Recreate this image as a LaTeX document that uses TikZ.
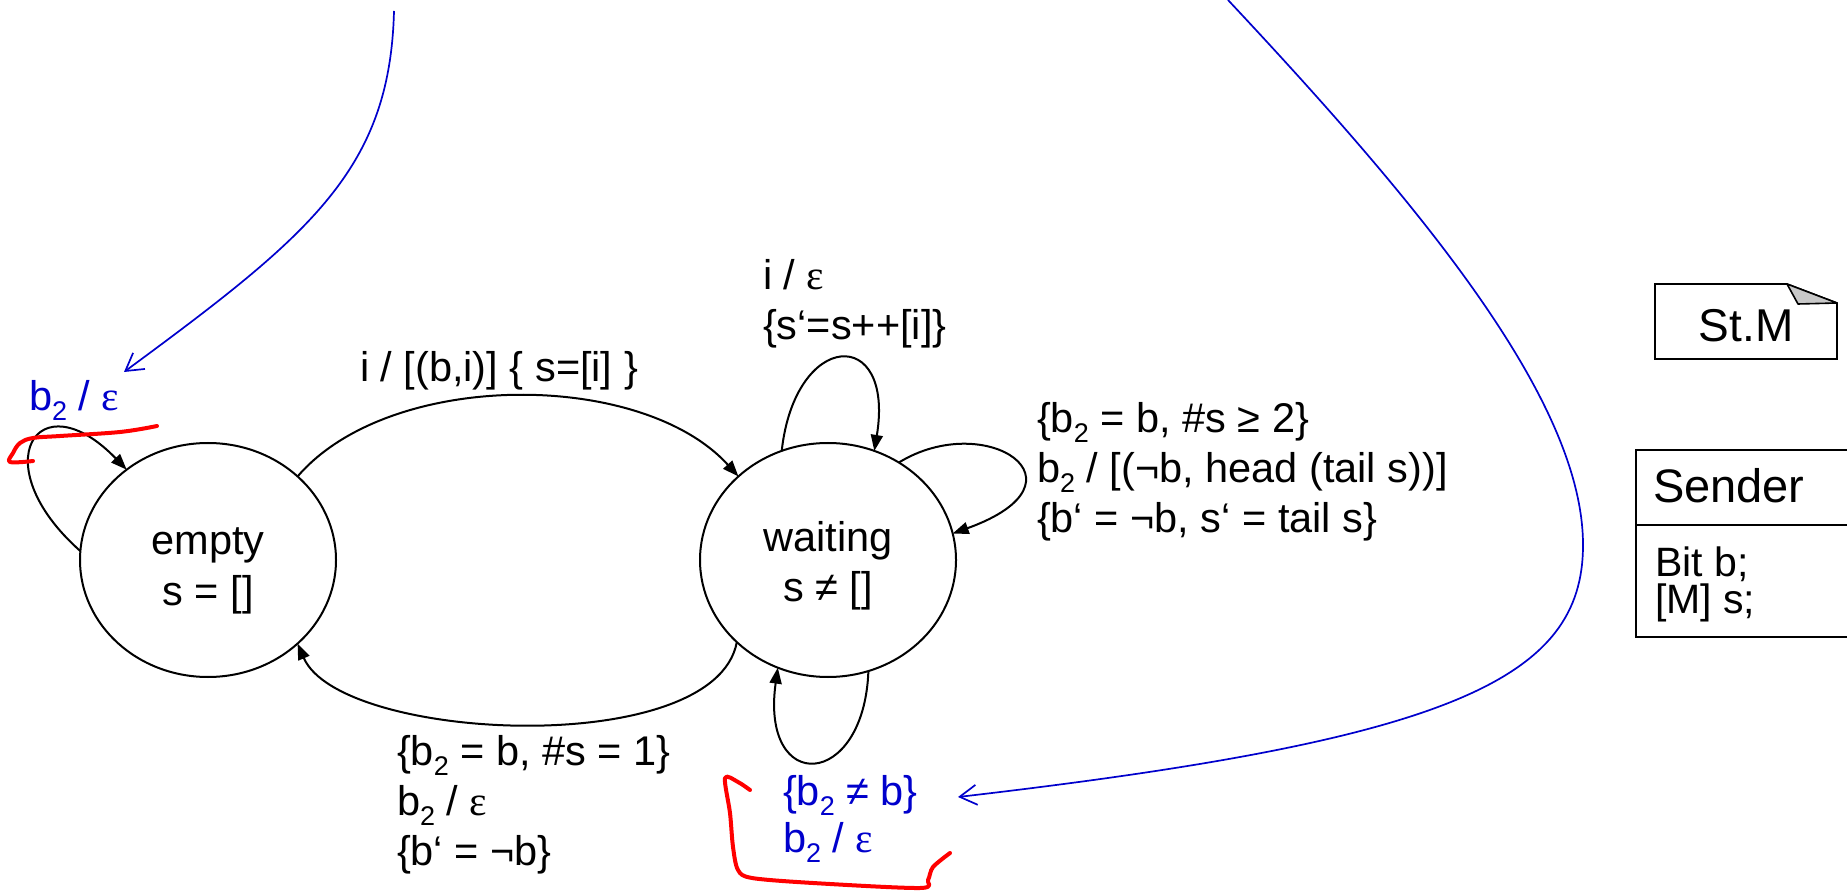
\documentclass[tikz,border=0pt]{standalone}
\usepackage{fontspec}
\setmainfont{Liberation Sans}
\newfontfamily\serifgreek{Liberation Serif}
\usetikzlibrary{arrows.meta,shapes.geometric}
\definecolor{pblue}{RGB}{0,0,204}
\definecolor{foldgray}{RGB}{200,200,200}
\newcommand\eps{{\serifgreek ε}}
\newcommand\mysub[1]{\raisebox{-5pt}{\fontsize{13.5}{13.5}\selectfont #1}}
\newcommand\mainfs{\fontsize{20.75}{25}\selectfont}
\begin{document}
\begin{tikzpicture}[x=0.5pt,y=-0.5pt,
  state/.style={draw, ellipse, line width=1pt, minimum width=128pt, minimum height=117pt,
    inner sep=0pt, outer sep=0pt},
  statetext/.style={anchor=base, inner sep=0pt, outer sep=0pt, align=center, font=\mainfs},
  trans/.style={draw, line width=1pt, -{Triangle[length=8pt,width=6pt]}},
  lbl/.style={anchor=base west, inner sep=0pt, outer sep=0pt, align=left, font=\mainfs},
  bluelbl/.style={lbl, text=pblue},
  bluearrow/.style={draw=pblue, line width=0.85pt, -{Straight Barb[length=8.5pt,width=10pt]}},
  redmark/.style={draw=red, line width=2pt, line cap=round, line join=round},
  umlbox/.style={line width=0.8pt},
]
\fill[white] (0,0) rectangle (1847,892);
\useasboundingbox (0,0) rectangle (1847,892);

% states (multi-line texts are anchored at the baseline of their last line)
\node[state] (empty) at (208,560) {};
\node[state] (waiting) at (828,560) {};
\node[statetext] (emptytxt) at (208,605) {empty\\s = []};
\node[statetext] (waitingtxt) at (828,602) {waiting\\s ≠ []};

% transitions
\draw[trans] (empty.43) .. controls (390,369) and (642,370) .. (waiting.137);
\draw[trans] (waiting.222) .. controls (715,760) and (340,742) .. (empty.317);
\draw[trans] (empty.176) .. controls (-18,464) and (38,378) .. (empty.132);
\draw[trans] (waiting.113) .. controls (795,330) and (895,325) .. (waiting.67);
\draw[trans] (waiting.54) .. controls (986,409) and (1096,482) .. (waiting.12);
\draw[trans] (waiting.290) .. controls (864,790) and (760,795) .. (waiting.245);

% labels
\node[lbl] (ltop) at (360,382) {i / [(b,i)] \{ s=[i] \}};
\node[lbl] (lloop) at (763,340) {i / \eps\\\{s‘=s++[i]\}};
\node[lbl] (lright) at (1037,533) {\{b\mysub{2} = b, \#s ≥ 2\}\\b\mysub{2} / [(¬b, head (tail s))]\\\{b‘ = ¬b, s‘ = tail s\}};
\node[lbl] (lbottom) at (397,865) {\{b\mysub{2} = b, \#s = 1\}\\b\mysub{2} / \eps\\\{b‘ = ¬b\}};
\node[bluelbl] (lbluetl) at (29,411) {b\mysub{2} / \eps};
\node[bluelbl, font=\fontsize{20.75}{23.5}\selectfont] (lblueb) at (783,852) {\{b\mysub{2} ≠ b\}\\b\mysub{2} / \eps};

% blue annotation arrows
\coordinate (bstart1) at (394,11);
\coordinate (bend1) at (124,372);
\coordinate (bstart2) at (1228,0);
\coordinate (bmid2) at (1583,545);
\coordinate (bend2) at (958,797);
\draw[bluearrow] (bstart1) .. controls (390,170) and (310,235) .. (bend1);
\draw[bluearrow] (bstart2) .. controls (1420,205) and (1583,400) .. (bmid2)
  .. controls (1583,680) and (1450,740) .. (bend2);

% red hand-drawn marks
\draw[redmark] plot[smooth, tension=0.6] coordinates {(157,426) (120,432) (60,436) (33,438) (20,443) (13,453) (10,462) (33,461)};
\draw[redmark] plot[smooth, tension=0.5] coordinates {(750,790) (738,782) (725,778) (730,813) (733,847) (738,870) (752,878) (813,883) (920,888) (928,880) (933,867) (950,853)};

% St.M note
\draw[umlbox] (1655,284) -- (1787,284) -- (1837,303) -- (1837,359) -- (1655,359) -- cycle;
\draw[umlbox, fill=foldgray, line join=round] (1787,284) -- (1798,304) -- (1837,303) -- cycle;
\node[inner sep=0pt, anchor=base, font=\fontsize{23}{23}\selectfont] (stm) at (1746,342) {St.M};

% Sender class box
\begin{scope}
\clip (0,0) rectangle (1847,892);
\draw[umlbox] (1636,450) rectangle (1870,637);
\draw[umlbox] (1636,525) -- (1870,525);
\end{scope}
\node[lbl, font=\fontsize{23.5}{23.5}\selectfont] (sender) at (1653,503) {Sender};
\node[lbl, font=\fontsize{20.5}{18}\selectfont] (attrs) at (1655,613) {Bit b;\\{}[M] s;};
\end{tikzpicture}
\end{document}
